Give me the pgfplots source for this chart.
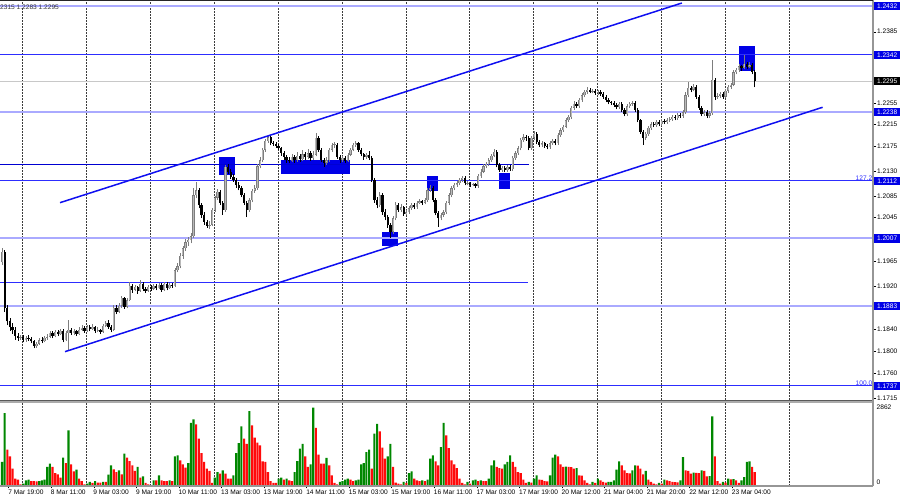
\documentclass[border=0pt]{standalone}
\usepackage{pgfplots}
\pgfplotsset{compat=1.18}
\usepackage{pgfplotstable}
\usepackage{fontspec}
\setmainfont{Liberation Sans}

\definecolor{mtThin}{RGB}{45,45,255}
\definecolor{mtLight}{RGB}{170,170,255}
\definecolor{mtDark}{RGB}{0,0,210}
\definecolor{mtBox}{RGB}{0,0,230}
\definecolor{mtChan}{RGB}{15,15,240}
\definecolor{mtBullEdge}{RGB}{125,125,125}
\definecolor{mtBullFill}{RGB}{185,185,185}
\definecolor{mtVolG}{RGB}{0,135,0}
\definecolor{mtVolR}{RGB}{255,10,10}
\definecolor{mtCur}{RGB}{200,200,200}
\definecolor{mtFrame}{RGB}{150,150,150}
\definecolor{mtGrid}{RGB}{60,60,60}

\newcommand\mtfont{\fontsize{6.6}{7.5}\selectfont}

% H1 bars: index, open, high, low, close, volume, volume rising (1) or not (0)
\pgfplotstableread{
i o h l c v g
0 1.1963 1.1990 1.1958 1.1982 870 1
1 1.1982 1.1986 1.1872 1.1880 2640 1
2 1.1880 1.1885 1.1848 1.1855 1315 0
3 1.1855 1.1862 1.1838 1.1845 1075 0
4 1.1845 1.1852 1.1833 1.1840 630 0
5 1.1840 1.1844 1.1822 1.1828 265 0
6 1.1828 1.1834 1.1820 1.1825 230 0
7 1.1825 1.1831 1.1821 1.1827 60 0
8 1.1827 1.1830 1.1817 1.1821 85 1
9 1.1821 1.1829 1.1818 1.1825 205 1
10 1.1825 1.1830 1.1819 1.1823 230 1
11 1.1823 1.1826 1.1815 1.1819 180 0
12 1.1819 1.1822 1.1806 1.1810 180 0
13 1.1810 1.1818 1.1807 1.1814 170 0
14 1.1814 1.1825 1.1812 1.1821 180 1
15 1.1821 1.1826 1.1815 1.1819 205 1
16 1.1819 1.1829 1.1817 1.1825 230 1
17 1.1825 1.1832 1.1822 1.1827 690 1
18 1.1827 1.1838 1.1825 1.1834 810 1
19 1.1834 1.1837 1.1824 1.1828 690 0
20 1.1828 1.1840 1.1826 1.1836 470 0
21 1.1836 1.1839 1.1828 1.1832 420 0
22 1.1832 1.1842 1.1830 1.1838 300 0
23 1.1838 1.1841 1.1817 1.1821 1025 1
24 1.1821 1.1837 1.1819 1.1834 830 0
25 1.1834 1.1858 1.1803 1.1840 2015 1
26 1.1840 1.1843 1.1830 1.1834 785 0
27 1.1834 1.1842 1.1831 1.1838 530 0
28 1.1838 1.1840 1.1828 1.1832 590 1
29 1.1832 1.1844 1.1830 1.1840 265 0
30 1.1840 1.1848 1.1837 1.1843 180 0
31 1.1843 1.1846 1.1834 1.1838 60 0
32 1.1838 1.1849 1.1836 1.1845 85 1
33 1.1845 1.1848 1.1837 1.1841 145 1
34 1.1841 1.1850 1.1839 1.1845 110 0
35 1.1845 1.1847 1.1834 1.1838 180 1
36 1.1838 1.1844 1.1835 1.1840 120 0
37 1.1840 1.1842 1.1832 1.1836 120 0
38 1.1836 1.1850 1.1834 1.1847 145 1
39 1.1847 1.1856 1.1844 1.1852 145 0
40 1.1852 1.1858 1.1842 1.1845 410 1
41 1.1845 1.1848 1.1835 1.1840 750 1
42 1.1840 1.1886 1.1838 1.1880 600 0
43 1.1880 1.1885 1.1868 1.1873 505 0
44 1.1873 1.1888 1.1870 1.1884 570 1
45 1.1884 1.1902 1.1880 1.1898 420 0
46 1.1898 1.1900 1.1878 1.1882 1170 1
47 1.1882 1.1898 1.1879 1.1894 1025 0
48 1.1894 1.1928 1.1892 1.1920 905 0
49 1.1920 1.1924 1.1908 1.1913 750 0
50 1.1913 1.1922 1.1910 1.1918 545 0
51 1.1918 1.1920 1.1906 1.1911 690 1
52 1.1911 1.1931 1.1909 1.1924 300 0
53 1.1924 1.1927 1.1911 1.1915 350 1
54 1.1915 1.1918 1.1907 1.1911 110 0
55 1.1911 1.1922 1.1909 1.1918 60 0
56 1.1918 1.1921 1.1911 1.1915 25 0
57 1.1915 1.1924 1.1913 1.1920 205 1
58 1.1920 1.1923 1.1912 1.1916 205 0
59 1.1916 1.1926 1.1914 1.1922 385 1
60 1.1922 1.1925 1.1909 1.1913 205 0
61 1.1913 1.1928 1.1911 1.1924 180 0
62 1.1924 1.1927 1.1912 1.1916 180 0
63 1.1916 1.1926 1.1914 1.1922 205 1
64 1.1922 1.1926 1.1916 1.1920 180 0
65 1.1920 1.1953 1.1918 1.1949 1075 1
66 1.1949 1.1962 1.1945 1.1956 1110 1
67 1.1956 1.1980 1.1952 1.1975 930 0
68 1.1975 1.1993 1.1970 1.1989 785 0
69 1.1989 1.2005 1.1984 1.2000 665 0
70 1.2000 1.2010 1.1993 1.2004 830 1
71 1.2004 1.2016 1.1998 1.2011 2290 1
72 1.2011 1.2099 1.2008 1.2086 2415 1
73 1.2086 1.2110 1.2080 1.2095 2235 0
74 1.2095 1.2099 1.2062 1.2068 1715 0
75 1.2068 1.2072 1.2044 1.2050 1195 0
76 1.2050 1.2055 1.2032 1.2037 870 0
77 1.2037 1.2041 1.2026 1.2030 630 0
78 1.2030 1.2038 1.2025 1.2032 545 0
79 1.2032 1.2063 1.2029 1.2059 110 0
80 1.2059 1.2085 1.2055 1.2081 300 1
81 1.2081 1.2097 1.2077 1.2092 505 1
82 1.2092 1.2095 1.2068 1.2072 445 0
83 1.2072 1.2076 1.2050 1.2059 570 1
84 1.2059 1.2142 1.2056 1.2138 445 0
85 1.2138 1.2143 1.2124 1.2129 265 0
86 1.2129 1.2133 1.2116 1.2120 265 0
87 1.2120 1.2125 1.2110 1.2114 385 1
88 1.2114 1.2118 1.2100 1.2105 1195 1
89 1.2105 1.2110 1.2095 1.2099 1555 1
90 1.2099 1.2103 1.2082 1.2086 2160 1
91 1.2086 1.2090 1.2068 1.2072 1715 0
92 1.2072 1.2076 1.2046 1.2059 1530 0
93 1.2059 1.2081 1.2055 1.2077 2715 1
94 1.2077 1.2098 1.2073 1.2094 2195 0
95 1.2094 1.2104 1.2090 1.2099 1750 0
96 1.2099 1.2143 1.2096 1.2139 1570 0
97 1.2139 1.2155 1.2135 1.2150 1470 0
98 1.2150 1.2173 1.2146 1.2169 890 0
99 1.2169 1.2189 1.2165 1.2185 870 0
100 1.2185 1.2196 1.2181 1.2192 505 0
101 1.2192 1.2195 1.2177 1.2181 180 0
102 1.2181 1.2185 1.2176 1.2180 110 0
103 1.2180 1.2184 1.2172 1.2176 110 0
104 1.2176 1.2180 1.2168 1.2172 265 1
105 1.2172 1.2175 1.2158 1.2163 300 1
106 1.2163 1.2166 1.2151 1.2156 230 0
107 1.2156 1.2160 1.2145 1.2150 265 1
108 1.2150 1.2155 1.2144 1.2149 205 0
109 1.2149 1.2162 1.2146 1.2156 180 0
110 1.2156 1.2160 1.2145 1.2150 505 1
111 1.2150 1.2165 1.2147 1.2158 905 1
112 1.2158 1.2162 1.2147 1.2152 1350 1
113 1.2152 1.2168 1.2149 1.2161 1530 1
114 1.2161 1.2165 1.2151 1.2156 1075 0
115 1.2156 1.2170 1.2153 1.2163 690 0
116 1.2163 1.2166 1.2149 1.2154 785 1
117 1.2154 1.2166 1.2151 1.2160 2835 1
118 1.2160 1.2200 1.2157 1.2191 2110 0
119 1.2191 1.2195 1.2165 1.2169 1135 0
120 1.2169 1.2173 1.2146 1.2150 810 0
121 1.2150 1.2154 1.2138 1.2145 810 0
122 1.2145 1.2155 1.2141 1.2150 1015 1
123 1.2150 1.2173 1.2147 1.2169 750 0
124 1.2169 1.2182 1.2165 1.2178 385 0
125 1.2178 1.2184 1.2172 1.2178 110 0
126 1.2178 1.2181 1.2152 1.2156 60 0
127 1.2156 1.2159 1.2145 1.2150 145 1
128 1.2150 1.2158 1.2146 1.2154 180 1
129 1.2154 1.2157 1.2144 1.2149 230 1
130 1.2149 1.2164 1.2146 1.2160 265 1
131 1.2160 1.2173 1.2157 1.2169 230 0
132 1.2169 1.2182 1.2166 1.2178 180 0
133 1.2178 1.2186 1.2175 1.2181 205 1
134 1.2181 1.2184 1.2165 1.2169 230 1
135 1.2169 1.2172 1.2157 1.2161 785 1
136 1.2161 1.2164 1.2151 1.2156 830 1
137 1.2156 1.2164 1.2153 1.2160 1230 1
138 1.2160 1.2166 1.2150 1.2154 1315 1
139 1.2154 1.2158 1.2110 1.2114 630 0
140 1.2114 1.2118 1.2072 1.2077 1895 1
141 1.2077 1.2082 1.2062 1.2068 2255 1
142 1.2068 1.2091 1.2064 1.2086 1980 0
143 1.2086 1.2090 1.2050 1.2055 1390 0
144 1.2055 1.2060 1.2040 1.2046 990 0
145 1.2046 1.2050 1.2026 1.2032 1075 1
146 1.2032 1.2036 1.2008 1.2019 1530 1
147 1.2019 1.2048 1.2015 1.2044 690 0
148 1.2044 1.2073 1.2040 1.2068 120 0
149 1.2068 1.2072 1.2055 1.2059 85 0
150 1.2059 1.2069 1.2056 1.2064 60 0
151 1.2064 1.2067 1.2048 1.2052 145 1
152 1.2052 1.2059 1.2049 1.2055 110 0
153 1.2055 1.2066 1.2052 1.2062 470 1
154 1.2062 1.2072 1.2059 1.2068 530 1
155 1.2068 1.2071 1.2060 1.2064 265 0
156 1.2064 1.2076 1.2061 1.2072 205 0
157 1.2072 1.2079 1.2069 1.2075 180 0
158 1.2075 1.2078 1.2068 1.2072 205 1
159 1.2072 1.2081 1.2069 1.2077 180 0
160 1.2077 1.2099 1.2074 1.2095 230 1
161 1.2095 1.2104 1.2091 1.2099 990 1
162 1.2099 1.2102 1.2073 1.2077 1110 1
163 1.2077 1.2080 1.2049 1.2053 890 0
164 1.2053 1.2057 1.2028 1.2044 750 0
165 1.2044 1.2054 1.2040 1.2050 1410 1
166 1.2050 1.2059 1.2046 1.2055 2290 1
167 1.2055 1.2076 1.2052 1.2072 1835 0
168 1.2072 1.2090 1.2068 1.2086 1375 0
169 1.2086 1.2103 1.2082 1.2099 930 0
170 1.2099 1.2109 1.2095 1.2105 785 0
171 1.2105 1.2112 1.2101 1.2108 650 0
172 1.2108 1.2118 1.2104 1.2114 265 0
173 1.2114 1.2122 1.2110 1.2118 110 0
174 1.2118 1.2121 1.2104 1.2108 60 0
175 1.2108 1.2112 1.2104 1.2108 145 1
176 1.2108 1.2111 1.2101 1.2105 85 0
177 1.2105 1.2109 1.2102 1.2106 205 1
178 1.2106 1.2109 1.2099 1.2103 230 1
179 1.2103 1.2125 1.2100 1.2121 180 0
180 1.2121 1.2133 1.2118 1.2129 205 1
181 1.2129 1.2143 1.2126 1.2139 180 0
182 1.2139 1.2147 1.2135 1.2143 180 0
183 1.2143 1.2154 1.2140 1.2150 265 1
184 1.2150 1.2162 1.2147 1.2158 750 1
185 1.2158 1.2171 1.2155 1.2165 930 1
186 1.2165 1.2168 1.2137 1.2141 690 0
187 1.2141 1.2144 1.2128 1.2132 650 0
188 1.2132 1.2140 1.2129 1.2136 630 0
189 1.2136 1.2139 1.2128 1.2132 785 1
190 1.2132 1.2142 1.2129 1.2138 870 1
191 1.2138 1.2141 1.2130 1.2134 1110 1
192 1.2134 1.2158 1.2131 1.2154 870 0
193 1.2154 1.2167 1.2150 1.2163 690 0
194 1.2163 1.2176 1.2160 1.2172 505 0
195 1.2172 1.2191 1.2168 1.2187 470 0
196 1.2187 1.2197 1.2183 1.2192 230 0
197 1.2192 1.2196 1.2186 1.2191 110 0
198 1.2191 1.2194 1.2168 1.2172 145 1
199 1.2172 1.2195 1.2169 1.2191 120 0
200 1.2191 1.2203 1.2187 1.2198 265 1
201 1.2198 1.2201 1.2179 1.2183 385 1
202 1.2183 1.2187 1.2174 1.2178 230 0
203 1.2178 1.2185 1.2175 1.2181 220 0
204 1.2181 1.2184 1.2172 1.2176 180 0
205 1.2176 1.2179 1.2170 1.2174 170 0
206 1.2174 1.2185 1.2171 1.2181 385 1
207 1.2181 1.2189 1.2178 1.2185 1025 1
208 1.2185 1.2188 1.2177 1.2181 1135 1
209 1.2181 1.2200 1.2178 1.2196 1075 0
210 1.2196 1.2209 1.2193 1.2205 785 0
211 1.2205 1.2215 1.2202 1.2211 690 0
212 1.2211 1.2227 1.2208 1.2223 700 1
213 1.2223 1.2233 1.2219 1.2229 690 0
214 1.2229 1.2250 1.2225 1.2246 680 0
215 1.2246 1.2258 1.2242 1.2253 630 0
216 1.2253 1.2257 1.2245 1.2249 650 1
217 1.2249 1.2264 1.2246 1.2260 385 0
218 1.2260 1.2273 1.2257 1.2269 380 0
219 1.2269 1.2279 1.2265 1.2275 205 0
220 1.2275 1.2283 1.2271 1.2279 110 0
221 1.2279 1.2282 1.2272 1.2275 60 0
222 1.2275 1.2280 1.2272 1.2277 145 1
223 1.2277 1.2280 1.2270 1.2273 110 0
224 1.2273 1.2278 1.2270 1.2275 265 1
225 1.2275 1.2278 1.2267 1.2271 205 0
226 1.2271 1.2274 1.2262 1.2266 145 0
227 1.2266 1.2269 1.2256 1.2260 120 0
228 1.2260 1.2263 1.2252 1.2256 145 1
229 1.2256 1.2259 1.2251 1.2255 150 1
230 1.2255 1.2258 1.2247 1.2251 205 1
231 1.2251 1.2254 1.2243 1.2247 590 1
232 1.2247 1.2257 1.2244 1.2253 890 1
233 1.2253 1.2256 1.2238 1.2242 750 0
234 1.2242 1.2245 1.2230 1.2234 565 0
235 1.2234 1.2253 1.2231 1.2249 470 0
236 1.2249 1.2257 1.2246 1.2253 460 0
237 1.2253 1.2259 1.2250 1.2255 565 1
238 1.2255 1.2258 1.2238 1.2242 750 1
239 1.2242 1.2245 1.2219 1.2223 740 0
240 1.2223 1.2226 1.2198 1.2202 630 0
241 1.2202 1.2205 1.2178 1.2191 420 0
242 1.2191 1.2202 1.2187 1.2198 545 1
243 1.2198 1.2213 1.2195 1.2209 230 0
244 1.2209 1.2220 1.2206 1.2216 145 0
245 1.2216 1.2219 1.2210 1.2214 85 0
246 1.2214 1.2224 1.2211 1.2220 60 0
247 1.2220 1.2223 1.2212 1.2216 110 1
248 1.2216 1.2226 1.2213 1.2222 85 0
249 1.2222 1.2225 1.2216 1.2220 230 1
250 1.2220 1.2227 1.2217 1.2223 205 0
251 1.2223 1.2229 1.2220 1.2225 180 0
252 1.2225 1.2233 1.2222 1.2229 145 0
253 1.2229 1.2232 1.2223 1.2227 140 0
254 1.2227 1.2237 1.2224 1.2233 135 0
255 1.2233 1.2236 1.2227 1.2231 205 1
256 1.2231 1.2242 1.2228 1.2238 1050 1
257 1.2238 1.2274 1.2235 1.2269 565 0
258 1.2269 1.2293 1.2265 1.2282 545 0
259 1.2282 1.2286 1.2274 1.2279 445 0
260 1.2279 1.2289 1.2276 1.2284 480 1
261 1.2284 1.2287 1.2262 1.2266 475 0
262 1.2266 1.2269 1.2242 1.2246 470 0
263 1.2246 1.2249 1.2230 1.2234 565 1
264 1.2234 1.2242 1.2231 1.2238 545 0
265 1.2238 1.2241 1.2227 1.2231 350 0
266 1.2231 1.2240 1.2228 1.2236 360 1
267 1.2236 1.2333 1.2233 1.2297 2520 1
268 1.2297 1.2301 1.2260 1.2266 1075 0
269 1.2266 1.2272 1.2262 1.2268 180 0
270 1.2268 1.2275 1.2264 1.2271 85 0
271 1.2271 1.2274 1.2262 1.2266 145 1
272 1.2266 1.2281 1.2263 1.2277 120 0
273 1.2277 1.2288 1.2273 1.2284 265 1
274 1.2284 1.2292 1.2280 1.2288 240 0
275 1.2288 1.2315 1.2285 1.2311 245 1
276 1.2311 1.2319 1.2307 1.2315 205 0
277 1.2315 1.2326 1.2312 1.2322 110 0
278 1.2322 1.2325 1.2314 1.2319 205 1
279 1.2319 1.2342 1.2316 1.2326 325 1
280 1.2326 1.2330 1.2316 1.2321 870 1
281 1.2321 1.2330 1.2318 1.2324 890 1
282 1.2324 1.2328 1.2307 1.2311 690 0
283 1.2311 1.2315 1.2283 1.2295 505 0
}\bars

\begin{document}
\begin{tikzpicture}
\useasboundingbox (0pt,0pt) rectangle (900pt,500pt);

% price panel
\begin{axis}[
  at={(0pt,100pt)}, anchor=south west,
  scale only axis, width=873pt, height=400pt,
  xmin=-0.752, xmax=327.44, ymin=1.17114, ymax=1.24430,
  axis line style={draw=none},
  clip=false,
  xtick={7.8,31.8,...,295.8}, xticklabels={},
  x tick style={draw=none},
  xmajorgrids,
  grid style={mtGrid, line width=0.5pt, dash pattern=on 1.8pt off 1.2pt},
  ytick={1.2429,1.2385,1.2342,1.2299,1.2255,1.2215,1.2175,1.2130,1.2085,1.2045,1.2005,1.1965,1.1920,1.1880,1.1840,1.1800,1.1760,1.1715},
  yticklabels={,1.2385,,,1.2255,1.2215,1.2175,1.2130,1.2085,1.2045,,1.1965,1.1920,,1.1840,1.1800,1.1760,1.1715},
  ytick pos=right, yticklabel pos=right,
  tick align=outside, major tick length=3pt,
  y tick style={black, line width=0.4pt},
  yticklabel style={font=\mtfont, anchor=west, inner sep=0pt, xshift=1pt},
  /pgf/number format/assume math mode=true,
]
% zones
\fill[mtBox] (axis cs:81.7,1.21553) rectangle (axis cs:87.6,1.21229);
\fill[mtBox] (axis cs:104.8,1.21504) rectangle (axis cs:130.8,1.21242);
\fill[mtBox] (axis cs:142.9,1.20181) rectangle (axis cs:148.8,1.19936);
\fill[mtBox] (axis cs:159.8,1.21217) rectangle (axis cs:163.8,1.20942);
\fill[mtBox] (axis cs:187.0,1.21260) rectangle (axis cs:191.0,1.20968);
\fill[mtBox] (axis cs:277.2,1.23589) rectangle (axis cs:283.1,1.23131);

% levels
\draw[mtLight, line width=2pt] (axis cs:-0.752,1.2432) -- (axis cs:327.44,1.2432);
\draw[mtLight, line width=2pt] (axis cs:-0.752,1.2238) -- (axis cs:327.44,1.2238);
\draw[mtLight, line width=2pt] (axis cs:-0.752,1.2007) -- (axis cs:327.44,1.2007);
\draw[mtLight, line width=2pt] (axis cs:-0.752,1.1883) -- (axis cs:327.44,1.1883);
\draw[mtThin, line width=1pt] (axis cs:-0.752,1.23425) -- (axis cs:327.44,1.23425);
\draw[mtThin, line width=1pt] (axis cs:-0.752,1.2112) -- (axis cs:327.44,1.2112);
\draw[mtThin, line width=1pt] (axis cs:-0.752,1.1737) -- (axis cs:327.44,1.1737);
\draw[mtDark, line width=1.5pt] (axis cs:-0.752,1.2142) -- (axis cs:198,1.2142);
\draw[mtThin, line width=1.2pt] (axis cs:-0.752,1.19263) -- (axis cs:197.7,1.19263);
\draw[mtCur, line width=0.8pt] (axis cs:-0.752,1.2295) -- (axis cs:327.44,1.2295);

% candles: wicks and bodies
\addplot[draw=none, mark=none, forget plot,
  error bars/.cd, y dir=plus, y explicit, error mark=none,
  error bar style={draw=mtBullEdge, line width=0.6pt}]
  table[x=i, y expr={\thisrow{c}>=\thisrow{o} ? \thisrow{l} : nan},
        y error expr={\thisrow{h}-\thisrow{l}}] {\bars};
\addplot[draw=none, mark=none, forget plot,
  error bars/.cd, y dir=plus, y explicit, error mark=none,
  error bar style={draw=mtBullEdge, line width=2.3pt, line cap=butt}]
  table[x=i, y expr={\thisrow{c}>=\thisrow{o} ? \thisrow{o} : nan},
        y error expr={max(\thisrow{c}-\thisrow{o},0.00012)}] {\bars};
\addplot[draw=none, mark=none, forget plot,
  error bars/.cd, y dir=plus, y explicit, error mark=none,
  error bar style={draw=mtBullFill, line width=1pt, line cap=butt}]
  table[x=i, y expr={\thisrow{c}-\thisrow{o}>0.0002 ? \thisrow{o}+0.00008 : nan},
        y error expr={\thisrow{c}-\thisrow{o}-0.00016}] {\bars};
\addplot[draw=none, mark=none, forget plot,
  error bars/.cd, y dir=plus, y explicit, error mark=none,
  error bar style={draw=black, line width=0.6pt}]
  table[x=i, y expr={\thisrow{c}<\thisrow{o} ? \thisrow{l} : nan},
        y error expr={\thisrow{h}-\thisrow{l}}] {\bars};
\addplot[draw=none, mark=none, forget plot,
  error bars/.cd, y dir=plus, y explicit, error mark=none,
  error bar style={draw=black, line width=2.3pt, line cap=butt}]
  table[x=i, y expr={\thisrow{c}<\thisrow{o} ? \thisrow{c} : nan},
        y error expr={max(\thisrow{o}-\thisrow{c},0.00012)}] {\bars};

% channel
\draw[mtChan, line width=1.5pt] (axis cs:21.8,1.20723) -- (axis cs:255.6,1.24375);
\draw[mtChan, line width=1.5pt] (axis cs:23.7,1.17998) -- (axis cs:308.5,1.22468);

% fib texts
\node[anchor=south east, font=\mtfont, text=mtThin, inner sep=0.6pt] at (axis cs:327.44,1.2112) {127.2};
\node[anchor=south east, font=\mtfont, text=mtThin, inner sep=0.6pt] at (axis cs:327.44,1.1737) {100.0};

% price boxes
\pgfplotsinvokeforeach{1.2432,1.2342,1.2238,1.2112,1.2007,1.1883,1.1737}{
  \node[fill=mtBox, text=white, font=\mtfont, anchor=west, inner sep=0pt,
        minimum height=8.5pt, minimum width=26.5pt, xshift=0.7pt]
        at (axis cs:327.44,#1) {#1};
}
\node[fill=black, text=white, font=\mtfont, anchor=west, inner sep=0pt,
      minimum height=8.5pt, minimum width=26.5pt, xshift=0.7pt]
      at (axis cs:327.44,1.2295) {1.2295};
\end{axis}

% volume panel
\begin{axis}[
  at={(0pt,14pt)}, anchor=south west,
  scale only axis, width=873pt, height=83pt,
  xmin=-0.752, xmax=327.44, ymin=0, ymax=3007,
  axis line style={draw=none},
  xtick={7.8,31.8,...,295.8}, xticklabels={},
  x tick style={draw=none},
  xmajorgrids,
  grid style={mtGrid, line width=0.5pt, dash pattern=on 1.8pt off 1.2pt},
  extra x ticks={2.5,18.5,...,274.5},
  extra x tick labels={7 Mar 19:00,8 Mar 11:00,9 Mar 03:00,9 Mar 19:00,10 Mar 11:00,13 Mar 03:00,13 Mar 19:00,14 Mar 11:00,15 Mar 03:00,15 Mar 19:00,16 Mar 11:00,17 Mar 03:00,17 Mar 19:00,20 Mar 12:00,21 Mar 04:00,21 Mar 20:00,22 Mar 12:00,23 Mar 04:00},
  extra x tick style={grid=none, x tick style={draw=black, line width=0.4pt},
    xticklabel style={anchor=north west, font=\mtfont, inner sep=0pt, xshift=-0.5pt, yshift=-1pt}},
  tick align=outside, major tick length=2.5pt,
  ytick={2862}, yticklabels={2862},
  extra y ticks={0}, extra y tick labels={0},
  extra y tick style={yticklabel style={yshift=4pt}},
  ytick pos=right, yticklabel pos=right,
  y tick style={draw=none},
  yticklabel style={font=\mtfont, anchor=west, inner sep=0pt, xshift=1pt},
]
\addplot[ybar, bar width=0.8, bar shift=0pt, fill=mtVolG, draw=none]
  table[x=i, y expr={\thisrow{g}>0 ? \thisrow{v} : nan}] {\bars};
\addplot[ybar, bar width=0.8, bar shift=0pt, fill=mtVolR, draw=none]
  table[x=i, y expr={\thisrow{g}>0 ? nan : \thisrow{v}}] {\bars};
\end{axis}

% frame
\fill[mtFrame!80] (0pt,97pt) rectangle (873pt,100pt);
\draw[black!65, line width=0.6pt] (0pt,99.7pt) -- (873pt,99.7pt);
\draw[mtFrame, line width=1.2pt] (0pt,14pt) -- (873pt,14pt);
\draw[mtFrame, line width=1.4pt] (873pt,14pt) -- (873pt,500pt);
\draw[black!85, line width=1pt] (0pt,499.5pt) -- (873pt,499.5pt);
\node[anchor=west, font=\mtfont, inner sep=0pt, text=black!80] at (0pt,493pt) {2315 1.2283 1.2295};
\end{tikzpicture}
\end{document}
